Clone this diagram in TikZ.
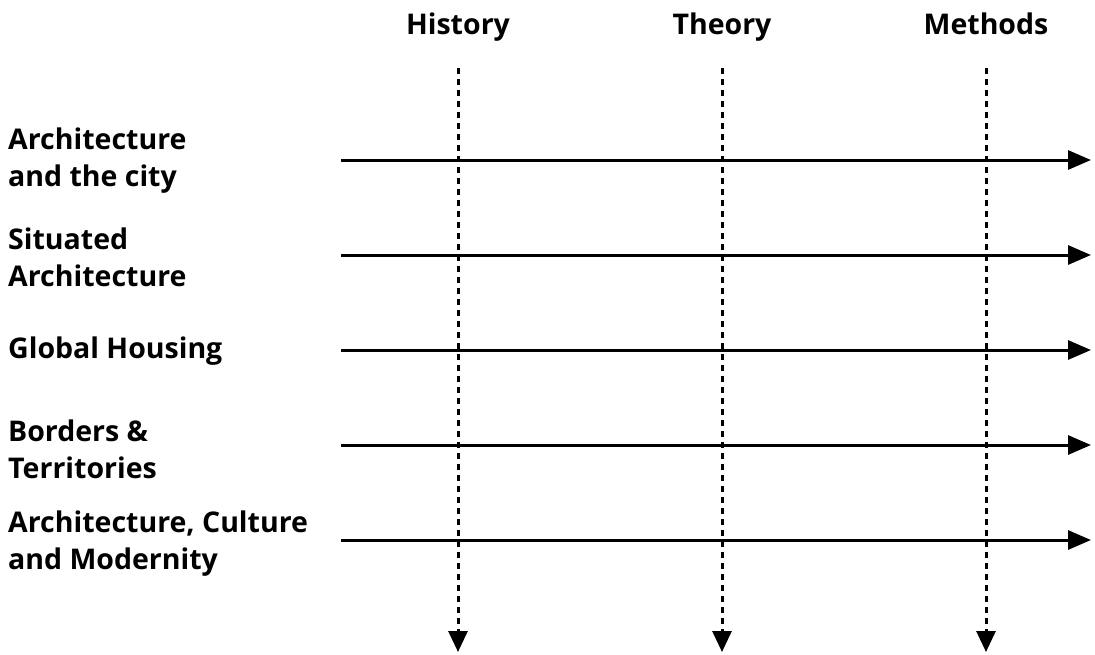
\documentclass[tikz,border=0pt]{standalone}
\usepackage{fontspec}
\setmainfont{Open Sans}
\usetikzlibrary{arrows.meta}
\begin{document}
\begin{tikzpicture}[x=1pt,y=-1pt,
  lbl/.style={anchor=west,align=left,inner sep=0pt,font=\fontsize{28.5}{37}\selectfont\bfseries},
  hdr/.style={anchor=base,inner sep=0pt,font=\fontsize{28.5}{37}\selectfont\bfseries},
  harrow/.style={line width=3pt,-{Triangle[length=23pt,width=19pt]}},
  varrow/.style={line width=3pt,dash pattern=on 6pt off 5pt,-{Triangle[length=21pt,width=19pt]}}]
\useasboundingbox (0,0) rectangle (1095,654);
% headers
\node[hdr] (h1) at (458,34) {History};
\node[hdr] (h2) at (722,34) {Theory};
\node[hdr] (h3) at (986,34) {Methods};
\coordinate (v1s) at (458,68); \coordinate (v1e) at (458,652);
\coordinate (v2s) at (722,68); \coordinate (v2e) at (722,652);
\coordinate (v3s) at (986,68); \coordinate (v3e) at (986,652);
\draw[varrow] (v1s) -- (v1e);
\draw[varrow] (v2s) -- (v2e);
\draw[varrow] (v3s) -- (v3e);
% rows
\node[lbl] (r1) at (8,161) {Architecture\\and the city};
\node[lbl] (r2) at (8,257) {Situated\\Architecture};
\node[lbl] (r3) at (8,351) {Global Housing};
\node[lbl] (r4) at (8,449) {Borders \&\\Territories};
\node[lbl] (r5) at (8,544) {Architecture, Culture\\and Modernity};
\foreach \i/\y in {1/160,2/255,3/350,4/445,5/540}{
  \coordinate (a\i s) at (341,\y);
  \coordinate (a\i e) at (1091,\y);
  \draw[harrow] (a\i s) -- (a\i e);
}
\end{tikzpicture}
\end{document}
